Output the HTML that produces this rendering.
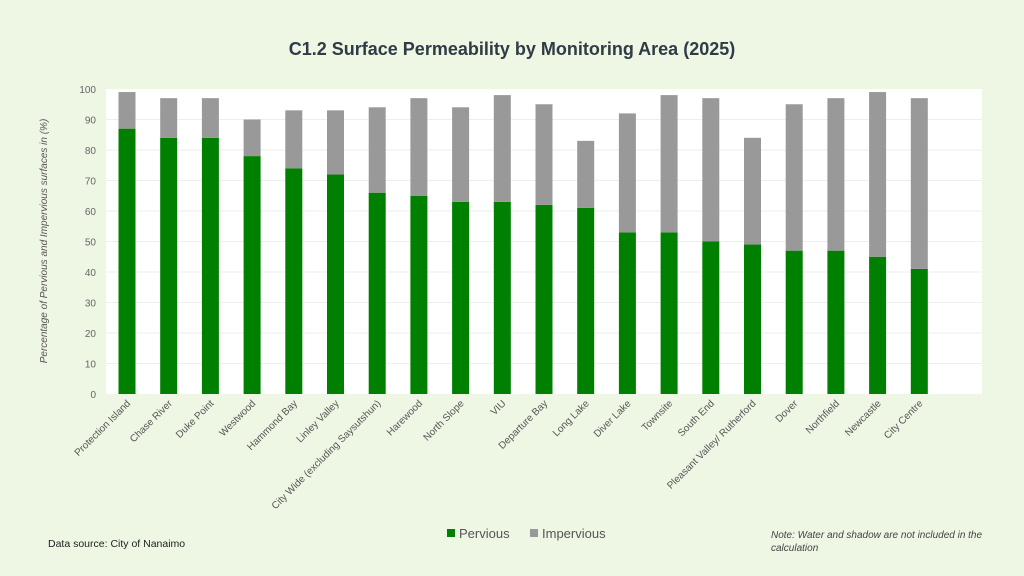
<!DOCTYPE html>
<html><head><meta charset="utf-8"><style>
body{margin:0;background:#eef6e4;}
svg{display:block;font-family:"Liberation Sans",sans-serif;}
</style></head><body>
<svg width="1024" height="576" xmlns="http://www.w3.org/2000/svg">
<rect width="1024" height="576" fill="#eef6e4"/>
<text x="512" y="55" text-anchor="middle" font-size="18" font-weight="bold" fill="#2f3b45">C1.2 Surface Permeability by Monitoring Area (2025)</text>
<rect x="106" y="89" width="876" height="305" fill="#fff"/>
<g stroke="#eee" stroke-width="1">
<line x1="106" x2="982" y1="363.5" y2="363.5"/><line x1="106" x2="982" y1="333" y2="333"/><line x1="106" x2="982" y1="302.5" y2="302.5"/><line x1="106" x2="982" y1="272" y2="272"/><line x1="106" x2="982" y1="241.5" y2="241.5"/><line x1="106" x2="982" y1="211" y2="211"/><line x1="106" x2="982" y1="180.5" y2="180.5"/><line x1="106" x2="982" y1="150" y2="150"/><line x1="106" x2="982" y1="119.5" y2="119.5"/>
</g>
<g font-size="10" fill="#666" text-anchor="end">
<text x="96" y="398">0</text><text x="96" y="367.5">10</text><text x="96" y="337">20</text><text x="96" y="306.5">30</text><text x="96" y="276">40</text><text x="96" y="245.5">50</text><text x="96" y="215">60</text><text x="96" y="184.5">70</text><text x="96" y="154">80</text><text x="96" y="123.5">90</text><text x="96" y="93">100</text>
</g>
<g transform="translate(0,394) scale(1,-3.05)">
<g fill="#008000">
<rect x="118.5" y="0" width="17" height="87"/>
<rect x="160.2" y="0" width="17" height="84"/>
<rect x="201.9" y="0" width="17" height="84"/>
<rect x="243.6" y="0" width="17" height="78"/>
<rect x="285.3" y="0" width="17" height="74"/>
<rect x="327" y="0" width="17" height="72"/>
<rect x="368.7" y="0" width="17" height="66"/>
<rect x="410.4" y="0" width="17" height="65"/>
<rect x="452.1" y="0" width="17" height="63"/>
<rect x="493.8" y="0" width="17" height="63"/>
<rect x="535.5" y="0" width="17" height="62"/>
<rect x="577.2" y="0" width="17" height="61"/>
<rect x="618.9" y="0" width="17" height="53"/>
<rect x="660.6" y="0" width="17" height="53"/>
<rect x="702.3" y="0" width="17" height="50"/>
<rect x="744" y="0" width="17" height="49"/>
<rect x="785.7" y="0" width="17" height="47"/>
<rect x="827.4" y="0" width="17" height="47"/>
<rect x="869.1" y="0" width="17" height="45"/>
<rect x="910.8" y="0" width="17" height="41"/>
</g>
<g fill="#999">
<rect x="118.5" y="87" width="17" height="12"/>
<rect x="160.2" y="84" width="17" height="13"/>
<rect x="201.9" y="84" width="17" height="13"/>
<rect x="243.6" y="78" width="17" height="12"/>
<rect x="285.3" y="74" width="17" height="19"/>
<rect x="327" y="72" width="17" height="21"/>
<rect x="368.7" y="66" width="17" height="28"/>
<rect x="410.4" y="65" width="17" height="32"/>
<rect x="452.1" y="63" width="17" height="31"/>
<rect x="493.8" y="63" width="17" height="35"/>
<rect x="535.5" y="62" width="17" height="33"/>
<rect x="577.2" y="61" width="17" height="22"/>
<rect x="618.9" y="53" width="17" height="39"/>
<rect x="660.6" y="53" width="17" height="45"/>
<rect x="702.3" y="50" width="17" height="47"/>
<rect x="744" y="49" width="17" height="35"/>
<rect x="785.7" y="47" width="17" height="48"/>
<rect x="827.4" y="47" width="17" height="50"/>
<rect x="869.1" y="45" width="17" height="54"/>
<rect x="910.8" y="41" width="17" height="56"/>
</g>
</g>
<g font-size="10" fill="#555" text-anchor="end">
<text transform="translate(131,404) rotate(-45)">Protection Island</text>
<text transform="translate(172.7,404) rotate(-45)">Chase River</text>
<text transform="translate(214.4,404) rotate(-45)">Duke Point</text>
<text transform="translate(256.1,404) rotate(-45)">Westwood</text>
<text transform="translate(297.8,404) rotate(-45)">Hammond Bay</text>
<text transform="translate(339.5,404) rotate(-45)">Linley Valley</text>
<text transform="translate(381.2,404) rotate(-45)">City Wide (excluding Saysutshun)</text>
<text transform="translate(422.9,404) rotate(-45)">Harewood</text>
<text transform="translate(464.6,404) rotate(-45)">North Slope</text>
<text transform="translate(506.3,404) rotate(-45)">VIU</text>
<text transform="translate(548,404) rotate(-45)">Departure Bay</text>
<text transform="translate(589.7,404) rotate(-45)">Long Lake</text>
<text transform="translate(631.4,404) rotate(-45)">Diver Lake</text>
<text transform="translate(673.1,404) rotate(-45)">Townsite</text>
<text transform="translate(714.8,404) rotate(-45)">South End</text>
<text transform="translate(756.5,404) rotate(-45)">Pleasant Valley/ Rutherford</text>
<text transform="translate(798.2,404) rotate(-45)">Dover</text>
<text transform="translate(839.9,404) rotate(-45)">Northfield</text>
<text transform="translate(881.6,404) rotate(-45)">Newcastle</text>
<text transform="translate(923.3,404) rotate(-45)">City Centre</text>
</g>
<text transform="translate(47,241) rotate(-90)" text-anchor="middle" font-size="10" font-style="italic" fill="#555">Percentage of Pervious and Impervious surfaces in (%)</text>
<rect x="447" y="529" width="8" height="8" fill="#008000"/>
<text x="459" y="538" font-size="13" fill="#555">Pervious</text>
<rect x="530" y="529" width="8" height="8" fill="#999"/>
<text x="542" y="538" font-size="13" fill="#555">Impervious</text>
<text x="48" y="547" font-size="10.5" fill="#222">Data source: City of Nanaimo</text>
<text x="771" y="538" font-size="10" font-style="italic" fill="#444">Note: Water and shadow are not included in the</text>
<text x="771" y="551" font-size="10" font-style="italic" fill="#444">calculation</text>
</svg>
</body></html>
